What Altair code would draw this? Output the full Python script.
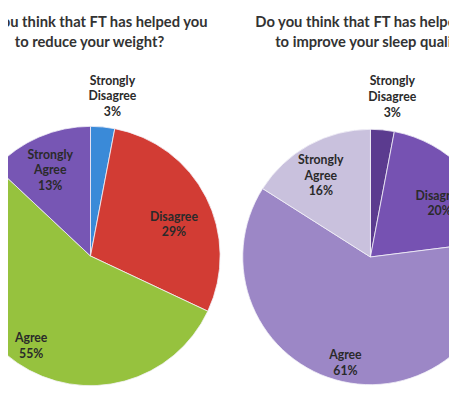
import altair as alt
import pandas as pd

categories = ["Strongly Disagree", "Disagree", "Agree", "Strongly Agree"]
label_names = ["Strongly\nDisagree", "Disagree", "Agree", "Strongly\nAgree"]
weight_values = [3, 29, 55, 13]
sleep_values = [3, 20, 61, 16]
title_weight = ["Do you think that FT has helped you", "to reduce your weight?"]
title_sleep = ["Do you think that FT has helped you", "to improve your sleep quality?"]

weight_colors = ["#3a8ad8", "#d23c34", "#96c23e", "#7756b4"]
sleep_colors = ["#5b3b8f", "#7652b2", "#9c87c6", "#c9c1dd"]

rows = []
for pie, vals in (("weight", weight_values), ("sleep", sleep_values)):
    for i, (cat, v) in enumerate(zip(categories, vals)):
        rows.append({"pie": pie, "cat": cat, "idx": i, "pct": v,
                     "key": pie + "|" + cat,
                     "label": label_names[i] + "\n" + f"{v}%"})
df = pd.DataFrame(rows)

keys = [f"weight|{c}" for c in categories] + [f"sleep|{c}" for c in categories]
color_scale = alt.Scale(domain=keys, range=weight_colors + sleep_colors)


def pie(name, cx, cy, r):
    base = alt.Chart(df).transform_filter(alt.datum.pie == name)
    arcs = base.mark_arc(radius=r, stroke="#f4f2f8", strokeWidth=0.8).encode(
        theta=alt.Theta("pct:Q", stack="normalize"),
        order=alt.Order("idx:Q"),
        color=alt.Color("key:N", scale=color_scale, legend=None),
        x=alt.value(cx), y=alt.value(cy),
    )
    labels = base.transform_joinaggregate(
        total="sum(pct)"
    ).transform_window(
        cum="sum(pct)", sort=[alt.SortField("idx")]
    ).transform_calculate(
        mid="(datum.cum - datum.pct / 2) / datum.total * 2 * PI + 0.03",
        lr="datum.pct < 5 ? 180 : (indexof(datum.label, 'Strongly') >= 0 ? 111 : (datum.pct > 50 ? 103 : 94))",
    ).mark_text(lineBreak="\n", fontSize=12.5, fontWeight="bold", font="Lato",
                color="#2a2a2a", lineHeight=16, baseline="middle").encode(
        theta=alt.Theta("mid:Q", scale=None),
        radius=alt.Radius("lr:Q", scale=None),
        text="label:N",
        x=alt.value(cx), y=alt.value(cy),
    )
    return arcs + labels


def title(lines, cx, cy):
    return alt.Chart(pd.DataFrame({"t": ["\n".join(lines)]})).mark_text(
        lineBreak="\n", fontSize=15, fontWeight="bold", font="Lato",
        color="#333333", lineHeight=20, baseline="middle", align="center"
    ).encode(text="t:N", x=alt.value(cx), y=alt.value(cy))


chart = alt.layer(
    pie("weight", 84, 249, 132),
    pie("sleep", 369, 250, 130),
    title(title_weight, 83, 11),
    title(title_sleep, 372, 11),
).properties(
    width=449, height=386, padding=0,
    autosize=alt.AutoSizeParams(type="none"),
    background="white",
).configure_view(stroke=None)

chart.save("out.html", embed_options={"renderer": "svg", "actions": False})
